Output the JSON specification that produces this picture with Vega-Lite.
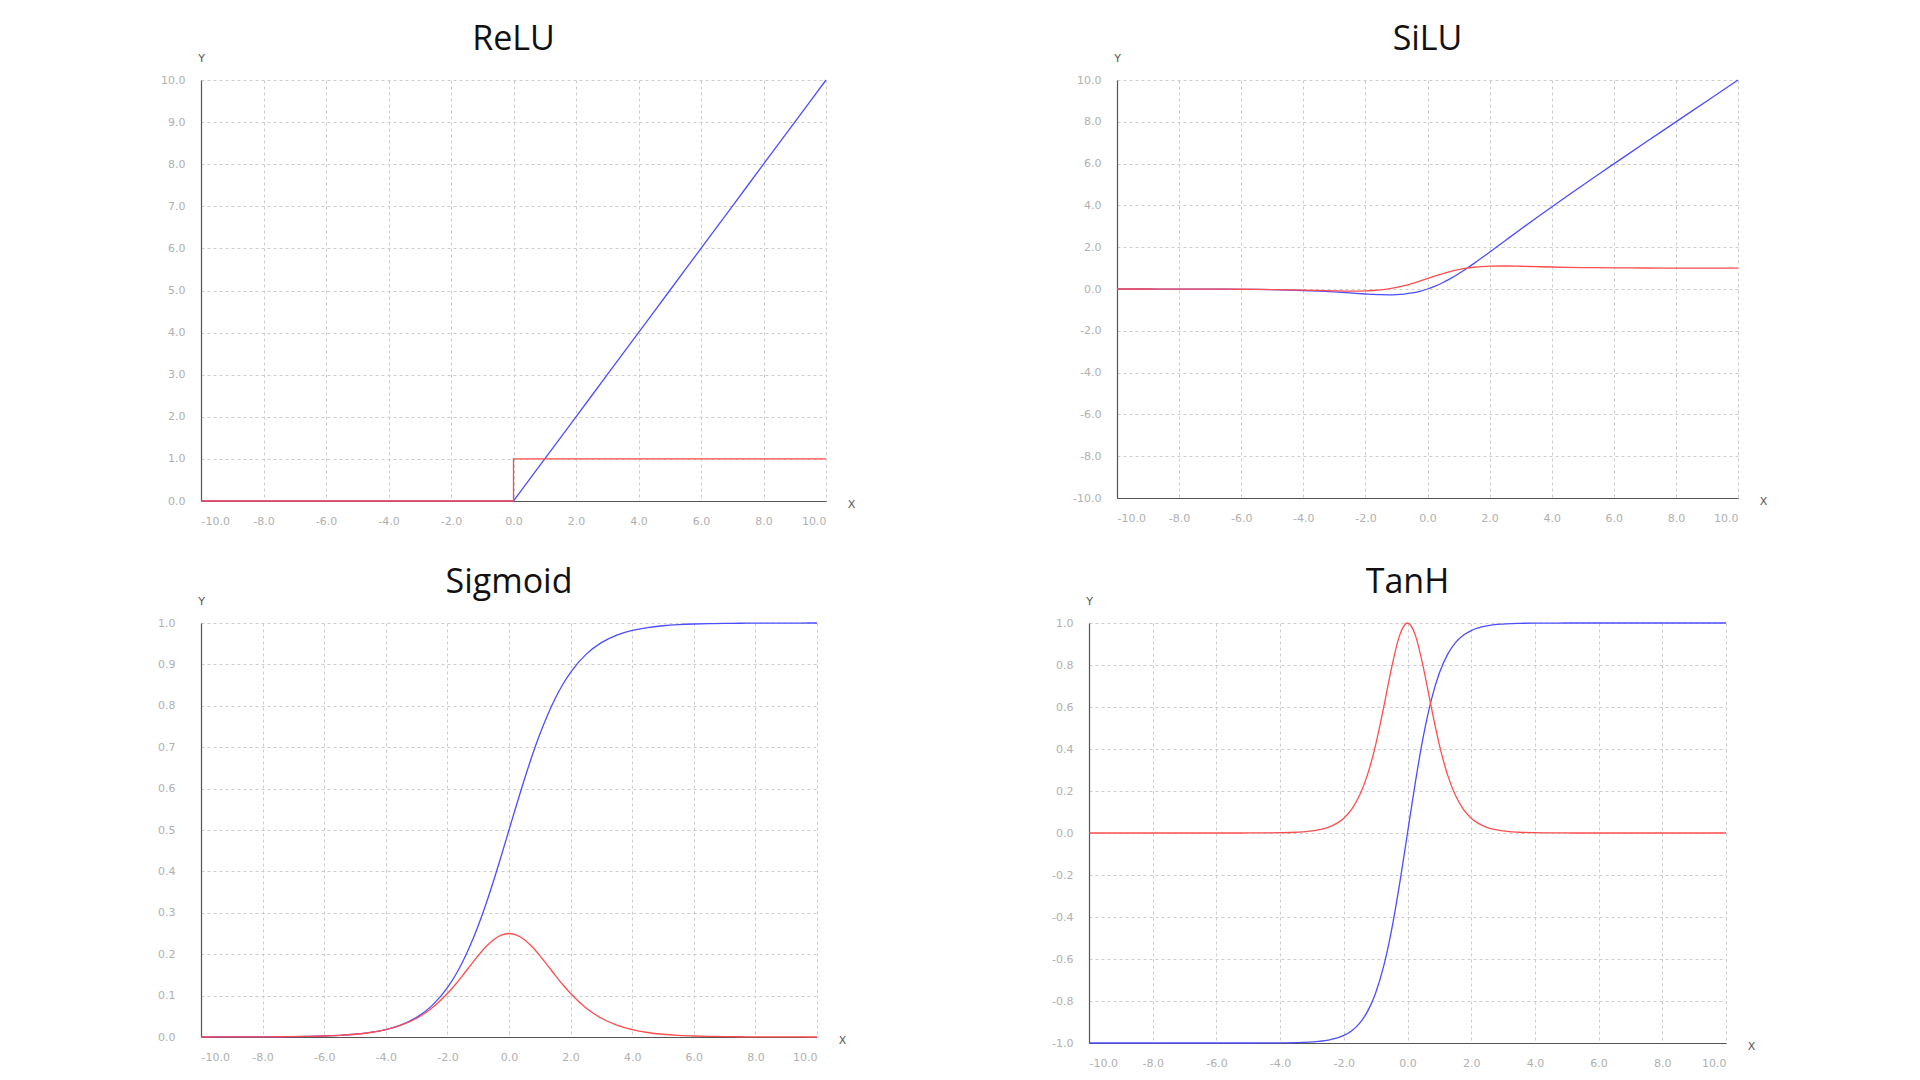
{
  "$schema": "https://vega.github.io/schema/vega-lite/v6.json",
  "padding": {"left": 157, "top": 23, "right": 10, "bottom": 5},
  "background": "white",
  "datasets": {
    "fn": [
      {"x": -10, "relu": 0, "drelu": 0, "silu": -0.000454, "dsilu": -0.000409, "sig": 0.0000454, "dsig": 0.0000454, "tanh": -1, "dtanh": 0},
      {"x": -9.5, "relu": 0, "drelu": 0, "silu": -0.000713, "dsilu": -0.000638, "sig": 0.000075, "dsig": 0.000075, "tanh": -1, "dtanh": 0},
      {"x": -9, "relu": 0, "drelu": 0, "silu": -0.00111, "dsilu": -0.000984, "sig": 0.000123, "dsig": 0.000123, "tanh": -1, "dtanh": 0},
      {"x": -8.5, "relu": 0, "drelu": 0, "silu": -0.00173, "dsilu": -0.00152, "sig": 0.000203, "dsig": 0.000203, "tanh": -1, "dtanh": 0},
      {"x": -8, "relu": 0, "drelu": 0, "silu": -0.00268, "dsilu": -0.00235, "sig": 0.000335, "dsig": 0.000335, "tanh": -1, "dtanh": 0},
      {"x": -7.5, "relu": 0, "drelu": 0, "silu": -0.00415, "dsilu": -0.0036, "sig": 0.000553, "dsig": 0.000553, "tanh": -1, "dtanh": 0},
      {"x": -7, "relu": 0, "drelu": 0, "silu": -0.00638, "dsilu": -0.00546, "sig": 0.000911, "dsig": 0.00091, "tanh": -0.999998, "dtanh": 0.000003},
      {"x": -6.5, "relu": 0, "drelu": 0, "silu": -0.00976, "dsilu": -0.00824, "sig": 0.001501, "dsig": 0.001499, "tanh": -0.999995, "dtanh": 0.00001},
      {"x": -6, "relu": 0, "drelu": 0, "silu": -0.01484, "dsilu": -0.01233, "sig": 0.002473, "dsig": 0.002467, "tanh": -0.999988, "dtanh": 0.000025},
      {"x": -5.5, "relu": 0, "drelu": 0, "silu": -0.02239, "dsilu": -0.01823, "sig": 0.00407, "dsig": 0.004054, "tanh": -0.999967, "dtanh": 0.000067},
      {"x": -5, "relu": 0, "drelu": 0, "silu": -0.03346, "dsilu": -0.02655, "sig": 0.006693, "dsig": 0.006648, "tanh": -0.999909, "dtanh": 0.000182},
      {"x": -4.5, "relu": 0, "drelu": 0, "silu": -0.04944, "dsilu": -0.03791, "sig": 0.010987, "dsig": 0.010866, "tanh": -0.999753, "dtanh": 0.000493},
      {"x": -4, "relu": 0, "drelu": 0, "silu": -0.07194, "dsilu": -0.05267, "sig": 0.017986, "dsig": 0.017663, "tanh": -0.999329, "dtanh": 0.001341},
      {"x": -3.5, "relu": 0, "drelu": 0, "silu": -0.10259, "dsilu": -0.07027, "sig": 0.029312, "dsig": 0.028453, "tanh": -0.998178, "dtanh": 0.003641},
      {"x": -3, "relu": 0, "drelu": 0, "silu": -0.14228, "dsilu": -0.08811, "sig": 0.047426, "dsig": 0.045177, "tanh": -0.995055, "dtanh": 0.009866},
      {"x": -2.5, "relu": 0, "drelu": 0, "silu": -0.18965, "dsilu": -0.0994, "sig": 0.075858, "dsig": 0.070104, "tanh": -0.986614, "dtanh": 0.026592},
      {"x": -2, "relu": 0, "drelu": 0, "silu": -0.23841, "dsilu": -0.09079, "sig": 0.119203, "dsig": 0.104994, "tanh": -0.964028, "dtanh": 0.070651},
      {"x": -1.75, "relu": 0, "drelu": 0, "silu": -0.25908, "dsilu": -0.07268, "sig": 0.148047, "dsig": 0.126129, "tanh": -0.941376, "dtanh": 0.113812},
      {"x": -1.5, "relu": 0, "drelu": 0, "silu": -0.27364, "dsilu": -0.04129, "sig": 0.182426, "dsig": 0.149146, "tanh": -0.905148, "dtanh": 0.180707},
      {"x": -1.25, "relu": 0, "drelu": 0, "silu": -0.27838, "dsilu": 0.00632, "sig": 0.2227, "dsig": 0.173104, "tanh": -0.848284, "dtanh": 0.280415},
      {"x": -1, "relu": 0, "drelu": 0, "silu": -0.26894, "dsilu": 0.07233, "sig": 0.268941, "dsig": 0.196612, "tanh": -0.761594, "dtanh": 0.419974},
      {"x": -0.75, "relu": 0, "drelu": 0, "silu": -0.24062, "dsilu": 0.1574, "sig": 0.320821, "dsig": 0.217895, "tanh": -0.635149, "dtanh": 0.596586},
      {"x": -0.5, "relu": 0, "drelu": 0, "silu": -0.18877, "dsilu": 0.26004, "sig": 0.377541, "dsig": 0.235004, "tanh": -0.462117, "dtanh": 0.786448},
      {"x": -0.25, "relu": 0, "drelu": 0, "silu": -0.10946, "dsilu": 0.37629, "sig": 0.437823, "dsig": 0.246134, "tanh": -0.244919, "dtanh": 0.940015},
      {"x": 0, "relu": 0, "drelu": 1, "silu": 0, "dsilu": 0.5, "sig": 0.5, "dsig": 0.25, "tanh": 0, "dtanh": 1},
      {"x": 0.25, "relu": 0.25, "drelu": 1, "silu": 0.14054, "dsilu": 0.62371, "sig": 0.562177, "dsig": 0.246134, "tanh": 0.244919, "dtanh": 0.940015},
      {"x": 0.5, "relu": 0.5, "drelu": 1, "silu": 0.31123, "dsilu": 0.73996, "sig": 0.622459, "dsig": 0.235004, "tanh": 0.462117, "dtanh": 0.786448},
      {"x": 0.75, "relu": 0.75, "drelu": 1, "silu": 0.50938, "dsilu": 0.8426, "sig": 0.679179, "dsig": 0.217895, "tanh": 0.635149, "dtanh": 0.596586},
      {"x": 1, "relu": 1, "drelu": 1, "silu": 0.73106, "dsilu": 0.92767, "sig": 0.731059, "dsig": 0.196612, "tanh": 0.761594, "dtanh": 0.419974},
      {"x": 1.25, "relu": 1.25, "drelu": 1, "silu": 0.97162, "dsilu": 0.99368, "sig": 0.7773, "dsig": 0.173104, "tanh": 0.848284, "dtanh": 0.280415},
      {"x": 1.5, "relu": 1.5, "drelu": 1, "silu": 1.22636, "dsilu": 1.04129, "sig": 0.817574, "dsig": 0.149146, "tanh": 0.905148, "dtanh": 0.180707},
      {"x": 1.75, "relu": 1.75, "drelu": 1, "silu": 1.49092, "dsilu": 1.07268, "sig": 0.851953, "dsig": 0.126129, "tanh": 0.941376, "dtanh": 0.113812},
      {"x": 2, "relu": 2, "drelu": 1, "silu": 1.76159, "dsilu": 1.09079, "sig": 0.880797, "dsig": 0.104994, "tanh": 0.964028, "dtanh": 0.070651},
      {"x": 2.5, "relu": 2.5, "drelu": 1, "silu": 2.31035, "dsilu": 1.0994, "sig": 0.924142, "dsig": 0.070104, "tanh": 0.986614, "dtanh": 0.026592},
      {"x": 3, "relu": 3, "drelu": 1, "silu": 2.85772, "dsilu": 1.08811, "sig": 0.952574, "dsig": 0.045177, "tanh": 0.995055, "dtanh": 0.009866},
      {"x": 3.5, "relu": 3.5, "drelu": 1, "silu": 3.39741, "dsilu": 1.07027, "sig": 0.970688, "dsig": 0.028453, "tanh": 0.998178, "dtanh": 0.003641},
      {"x": 4, "relu": 4, "drelu": 1, "silu": 3.92806, "dsilu": 1.05267, "sig": 0.982014, "dsig": 0.017663, "tanh": 0.999329, "dtanh": 0.001341},
      {"x": 4.5, "relu": 4.5, "drelu": 1, "silu": 4.45056, "dsilu": 1.03791, "sig": 0.989013, "dsig": 0.010866, "tanh": 0.999753, "dtanh": 0.000493},
      {"x": 5, "relu": 5, "drelu": 1, "silu": 4.96654, "dsilu": 1.02655, "sig": 0.993307, "dsig": 0.006648, "tanh": 0.999909, "dtanh": 0.000182},
      {"x": 5.5, "relu": 5.5, "drelu": 1, "silu": 5.47761, "dsilu": 1.01823, "sig": 0.99593, "dsig": 0.004054, "tanh": 0.999967, "dtanh": 0.000067},
      {"x": 6, "relu": 6, "drelu": 1, "silu": 5.98516, "dsilu": 1.01233, "sig": 0.997527, "dsig": 0.002467, "tanh": 0.999988, "dtanh": 0.000025},
      {"x": 6.5, "relu": 6.5, "drelu": 1, "silu": 6.49024, "dsilu": 1.00824, "sig": 0.998499, "dsig": 0.001499, "tanh": 0.999995, "dtanh": 0.00001},
      {"x": 7, "relu": 7, "drelu": 1, "silu": 6.99362, "dsilu": 1.00546, "sig": 0.999089, "dsig": 0.00091, "tanh": 0.999998, "dtanh": 0.000003},
      {"x": 7.5, "relu": 7.5, "drelu": 1, "silu": 7.49585, "dsilu": 1.0036, "sig": 0.999447, "dsig": 0.000553, "tanh": 1, "dtanh": 0},
      {"x": 8, "relu": 8, "drelu": 1, "silu": 7.99732, "dsilu": 1.00235, "sig": 0.999665, "dsig": 0.000335, "tanh": 1, "dtanh": 0},
      {"x": 8.5, "relu": 8.5, "drelu": 1, "silu": 8.49827, "dsilu": 1.00152, "sig": 0.999797, "dsig": 0.000203, "tanh": 1, "dtanh": 0},
      {"x": 9, "relu": 9, "drelu": 1, "silu": 8.99889, "dsilu": 1.00098, "sig": 0.999877, "dsig": 0.000123, "tanh": 1, "dtanh": 0},
      {"x": 9.5, "relu": 9.5, "drelu": 1, "silu": 9.49929, "dsilu": 1.00064, "sig": 0.999925, "dsig": 0.000075, "tanh": 1, "dtanh": 0},
      {"x": 10, "relu": 10, "drelu": 1, "silu": 9.99955, "dsilu": 1.00041, "sig": 0.999955, "dsig": 0.0000454, "tanh": 1, "dtanh": 0}
    ]
  },
  "data": {"name": "fn"},
  "spacing": 40,
  "vconcat": [
    {
      "spacing": 217,
      "hconcat": [
        {
          "title": "ReLU",
          "width": 625, "height": 421,
          "encoding": {"x": {"field": "x", "type": "quantitative", "scale": {"domain": [-10, 10], "nice": false}, "axis": {"title": "X", "values": [-10, -8, -6, -4, -2, 0, 2, 4, 6, 8, 10], "titleX": 650, "titleY": 3}}},
          "layer": [
            {"mark": {"type": "line", "color": "#4d4dff", "strokeWidth": 1.3},
             "encoding": {"y": {"field": "relu", "type": "quantitative", "scale": {"domain": [0, 10], "nice": false}, "axis": {"title": "Y", "values": [0, 1, 2, 3, 4, 5, 6, 7, 8, 9, 10]}}}},
            {"mark": {"type": "line", "color": "#ff4d4d", "strokeWidth": 1.3, "interpolate": "step-after"},
             "encoding": {"y": {"field": "drelu", "type": "quantitative"}}}
          ]
        },
        {
          "title": "SiLU",
          "width": 621, "height": 418,
          "encoding": {"x": {"field": "x", "type": "quantitative", "scale": {"domain": [-10, 10], "nice": false}, "axis": {"title": "X", "values": [-10, -8, -6, -4, -2, 0, 2, 4, 6, 8, 10], "titleX": 646, "titleY": 3}}},
          "layer": [
            {"mark": {"type": "line", "color": "#4d4dff", "strokeWidth": 1.3, "interpolate": "monotone"},
             "encoding": {"y": {"field": "silu", "type": "quantitative", "scale": {"domain": [-10, 10], "nice": false}, "axis": {"title": "Y", "values": [-10, -8, -6, -4, -2, 0, 2, 4, 6, 8, 10]}}}},
            {"mark": {"type": "line", "color": "#ff4d4d", "strokeWidth": 1.3, "interpolate": "monotone"},
             "encoding": {"y": {"field": "dsilu", "type": "quantitative"}}}
          ]
        }
      ]
    },
    {
      "spacing": 205,
      "hconcat": [
        {
          "title": "Sigmoid",
          "width": 616, "height": 414,
          "encoding": {"x": {"field": "x", "type": "quantitative", "scale": {"domain": [-10, 10], "nice": false}, "axis": {"title": "X", "values": [-10, -8, -6, -4, -2, 0, 2, 4, 6, 8, 10], "titleX": 641, "titleY": 3}}},
          "layer": [
            {"mark": {"type": "line", "color": "#4d4dff", "strokeWidth": 1.3, "interpolate": "monotone"},
             "encoding": {"y": {"field": "sig", "type": "quantitative", "scale": {"domain": [0, 1], "nice": false}, "axis": {"title": "Y", "labelPadding": 26, "values": [0, 0.1, 0.2, 0.3, 0.4, 0.5, 0.6, 0.7, 0.8, 0.9, 1]}}}},
            {"mark": {"type": "line", "color": "#ff4d4d", "strokeWidth": 1.3, "interpolate": "monotone"},
             "encoding": {"y": {"field": "dsig", "type": "quantitative"}}}
          ]
        },
        {
          "title": "TanH",
          "width": 637, "height": 420,
          "encoding": {"x": {"field": "x", "type": "quantitative", "scale": {"domain": [-10, 10], "nice": false}, "axis": {"title": "X", "values": [-10, -8, -6, -4, -2, 0, 2, 4, 6, 8, 10], "titleX": 662, "titleY": 3}}},
          "layer": [
            {"mark": {"type": "line", "color": "#4d4dff", "strokeWidth": 1.3, "interpolate": "monotone"},
             "encoding": {"y": {"field": "tanh", "type": "quantitative", "scale": {"domain": [-1, 1], "nice": false}, "axis": {"title": "Y", "values": [-1, -0.8, -0.6, -0.4, -0.2, 0, 0.2, 0.4, 0.6, 0.8, 1]}}}},
            {"mark": {"type": "line", "color": "#ff4d4d", "strokeWidth": 1.3, "interpolate": "monotone"},
             "encoding": {"y": {"field": "dtanh", "type": "quantitative"}}}
          ]
        }
      ]
    }
  ],
  "config": {
    "view": {"stroke": null},
    "title": {"font": "Open Sans", "fontSize": 34, "fontWeight": "normal", "color": "#111", "anchor": "middle", "offset": -5},
    "axis": {
      "labelExpr": "replace(format(datum.value, '.1f'), '\u2212', '-')",
      "labelFont": "DejaVu Sans", "labelFontSize": 11, "labelColor": "#b0b0b0",
      "ticks": false, "domainColor": "#555", "domainWidth": 1.2,
      "gridColor": "#cccccc", "gridDash": [3, 3], "gridWidth": 1,
      "titleFont": "DejaVu Sans", "titleFontSize": 11, "titleFontWeight": "normal", "titleColor": "#555"
    },
    "axisX": {"labelPadding": 14, "titleAngle": 0, "titleAlign": "center", "titleBaseline": "middle"},
    "axisY": {"labelPadding": 16, "titleAngle": 0, "titleX": 0, "titleY": -22, "titleAlign": "center", "titleBaseline": "middle"}
  }
}
